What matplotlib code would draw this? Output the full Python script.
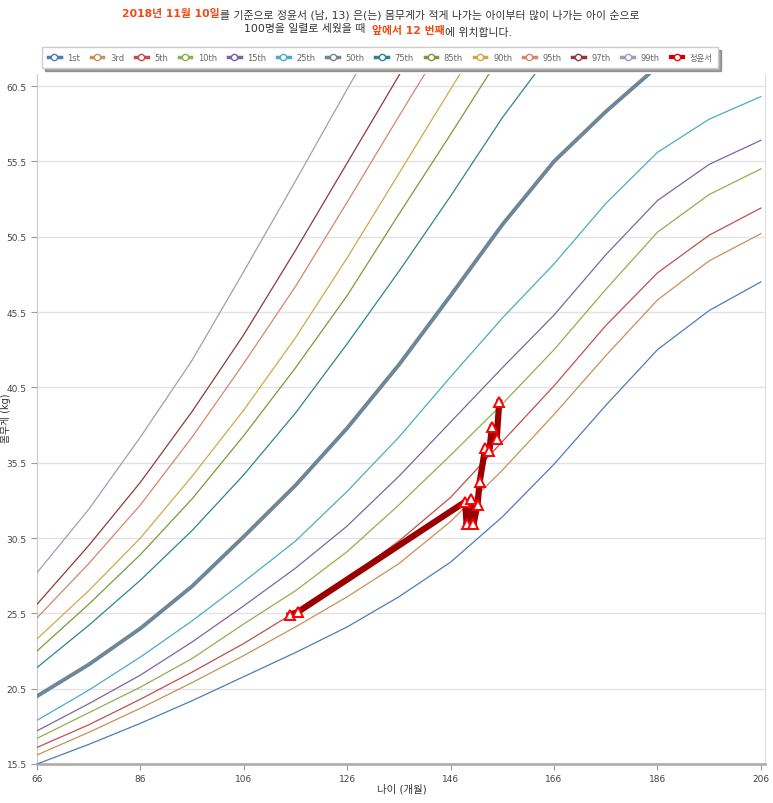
import matplotlib
matplotlib.use("Agg")
import matplotlib.pyplot as plt
from matplotlib.lines import Line2D

plt.rcParams["font.family"] = ["DejaVu Sans", "Noto Sans CJK KR"]

# percentile curves (kg), ages in months
AGES = [66, 76, 86, 96, 106, 116, 126, 136, 146, 156, 166, 176, 186, 196, 206]
P01 = [15.5, 16.8, 18.2, 19.7, 21.3, 22.9, 24.6, 26.6, 28.9, 31.9, 35.4, 39.3, 43.0, 45.6, 47.5]
P03 = [16.1, 17.6, 19.2, 20.9, 22.7, 24.6, 26.6, 28.8, 31.6, 35.0, 38.7, 42.6, 46.3, 48.9, 50.7]
P05 = [16.6, 18.1, 19.8, 21.6, 23.5, 25.6, 27.8, 30.3, 33.2, 36.9, 40.6, 44.6, 48.1, 50.6, 52.4]
P10 = [17.2, 18.9, 20.6, 22.5, 24.8, 27.0, 29.6, 32.7, 36.0, 39.4, 43.0, 47.0, 50.8, 53.3, 55.0]
P15 = [17.7, 19.5, 21.4, 23.6, 26.0, 28.5, 31.3, 34.6, 38.2, 41.8, 45.3, 49.3, 52.9, 55.3, 56.9]
P25 = [18.4, 20.4, 22.6, 25.0, 27.6, 30.3, 33.6, 37.2, 41.2, 45.1, 48.7, 52.7, 56.1, 58.3, 59.8]
P50 = [20.0, 22.1, 24.5, 27.3, 30.6, 34.0, 37.8, 42.0, 46.6, 51.3, 55.5, 58.8, 61.8]
P75 = [21.9, 24.7, 27.7, 31.0, 34.7, 38.8, 43.4, 48.2, 53.2, 58.4, 63.0]
P85 = [23.0, 26.1, 29.4, 33.1, 37.3, 41.8, 46.6, 52.0, 57.3, 62.7]
P90 = [23.8, 27.0, 30.5, 34.6, 39.0, 43.8, 49.1, 54.7, 60.3, 65.8]
P95 = [25.2, 28.8, 32.7, 37.2, 42.1, 47.2, 52.8, 58.5, 64.1]
P97 = [26.1, 30.0, 34.2, 38.9, 44.0, 49.6, 55.4, 61.2, 67.0]
P99 = [28.2, 32.4, 37.2, 42.3, 48.2, 54.2, 60.3, 66.3]

CURVES = [
    ("1st", P01, "#4f7cb8"),
    ("3rd", P03, "#c8905a"),
    ("5th", P05, "#c0504d"),
    ("10th", P10, "#8fb050"),
    ("15th", P15, "#8064a2"),
    ("25th", P25, "#4bacc6"),
    ("50th", P50, "#6e8798"),
    ("75th", P75, "#2e8490"),
    ("85th", P85, "#7a9a3a"),
    ("90th", P90, "#d2a848"),
    ("95th", P95, "#d4876c"),
    ("97th", P97, "#8e3a3a"),
    ("99th", P99, "#a29cba"),
]

# child's measurements
CHILD_NAME = "정윤서"
CHILD_AGE = [114.9, 116.5, 148.8, 149.1, 149.9, 150.4, 151.2, 151.6, 152.7, 153.5, 154.0, 154.9, 155.4]
CHILD_WT = [25.4, 25.6, 32.9, 31.4, 33.1, 31.4, 32.7, 34.2, 36.5, 36.3, 37.9, 37.1, 39.5]

XTICKS = [66, 86, 106, 126, 146, 166, 186, 206]
YTICKS = [15.5, 20.5, 25.5, 30.5, 35.5, 40.5, 45.5, 50.5, 55.5, 60.5]

HL = "#f04a14"
TXT = "#333333"

fig = plt.figure(figsize=(7.73, 8.04), dpi=100)
ax = fig.add_axes([37 / 773, 39 / 804, 728 / 773, 690 / 804])

handles = []
for name, vals, color in CURVES:
    lw = 2.8 if name == "50th" else 0.9
    ax.plot(AGES[:len(vals)], vals, color=color, lw=lw, zorder=3)
    handles.append(Line2D([], [], color=color, lw=2.5, marker="o", markersize=4.5,
                          markerfacecolor="white", markeredgecolor=color, markeredgewidth=1))

ax.plot(CHILD_AGE, CHILD_WT, color="#9b0000", lw=4.5, marker="^", markersize=7,
        markerfacecolor="white", markeredgecolor="#ff0000", markeredgewidth=1.4, zorder=5)
handles.append(Line2D([], [], color="#cc0000", lw=3, marker="o", markersize=4.5,
                      markerfacecolor="white", markeredgecolor="#ff0000", markeredgewidth=1))
labels = [c[0] for c in CURVES] + [CHILD_NAME]

ax.set_xlim(66, 206.8)
ax.set_ylim(15.5, 61.3)
ax.set_xticks(XTICKS)
ax.set_yticks(YTICKS)
ax.set_yticklabels([f"{v:.1f}" for v in YTICKS])
ax.tick_params(labelsize=6.5, colors="#999999", labelcolor="#444444", length=4)
ax.grid(True, axis="y", color="#e3e3e3", lw=1)
ax.set_axisbelow(True)
ax.spines["top"].set_visible(False)
ax.spines["left"].set_color("#cccccc")
ax.spines["right"].set_color("#dddddd")
ax.spines["bottom"].set_color("#b0b0b0")
ax.spines["bottom"].set_linewidth(2)

fig.text(0.52, 0.012, "나이 (개월)", ha="center", va="bottom", fontsize=7.5, color=TXT)
fig.text(0.001, 0.48, "몸무게 (kg)", rotation=90, ha="left", va="center", fontsize=7, color=TXT)

leg = fig.legend(handles, labels, loc="upper left", bbox_to_anchor=(38 / 773, 1 - 44 / 804),
                 ncol=14, fontsize=6, frameon=True, shadow=True, fancybox=False,
                 handlelength=1.5, handletextpad=0.8, columnspacing=1.3, borderpad=0.7,
                 edgecolor="#cccccc", labelcolor="#666666")


def title_line(parts, x, y):
    prev = None
    for txt, bold, color in parts:
        weight = "bold" if bold else "normal"
        if prev is None:
            prev = fig.text(x, y, txt, ha="left", va="baseline", fontsize=7.8,
                            color=color, weight=weight)
        else:
            prev = ax.annotate(txt, xy=(1, 0), xycoords=prev, ha="left", va="baseline",
                               fontsize=7.8, color=color, weight=weight, annotation_clip=False)


title_line([("2018년 11월 10일", True, HL),
            ("를 기준으로 정윤서 (남, 13) 은(는) 몸무게가 적게 나가는 아이부터 많이 나가는 아이 순으로", False, TXT)],
           122 / 773, 1 - 17 / 804)
title_line([("100명을 일렬로 세웠을 때  ", False, TXT),
            ("앞에서 12 번째", True, HL),
            ("에 위치합니다.", False, TXT)],
           244 / 773, 1 - 32 / 804)

fig.savefig("out.png", dpi=100)
